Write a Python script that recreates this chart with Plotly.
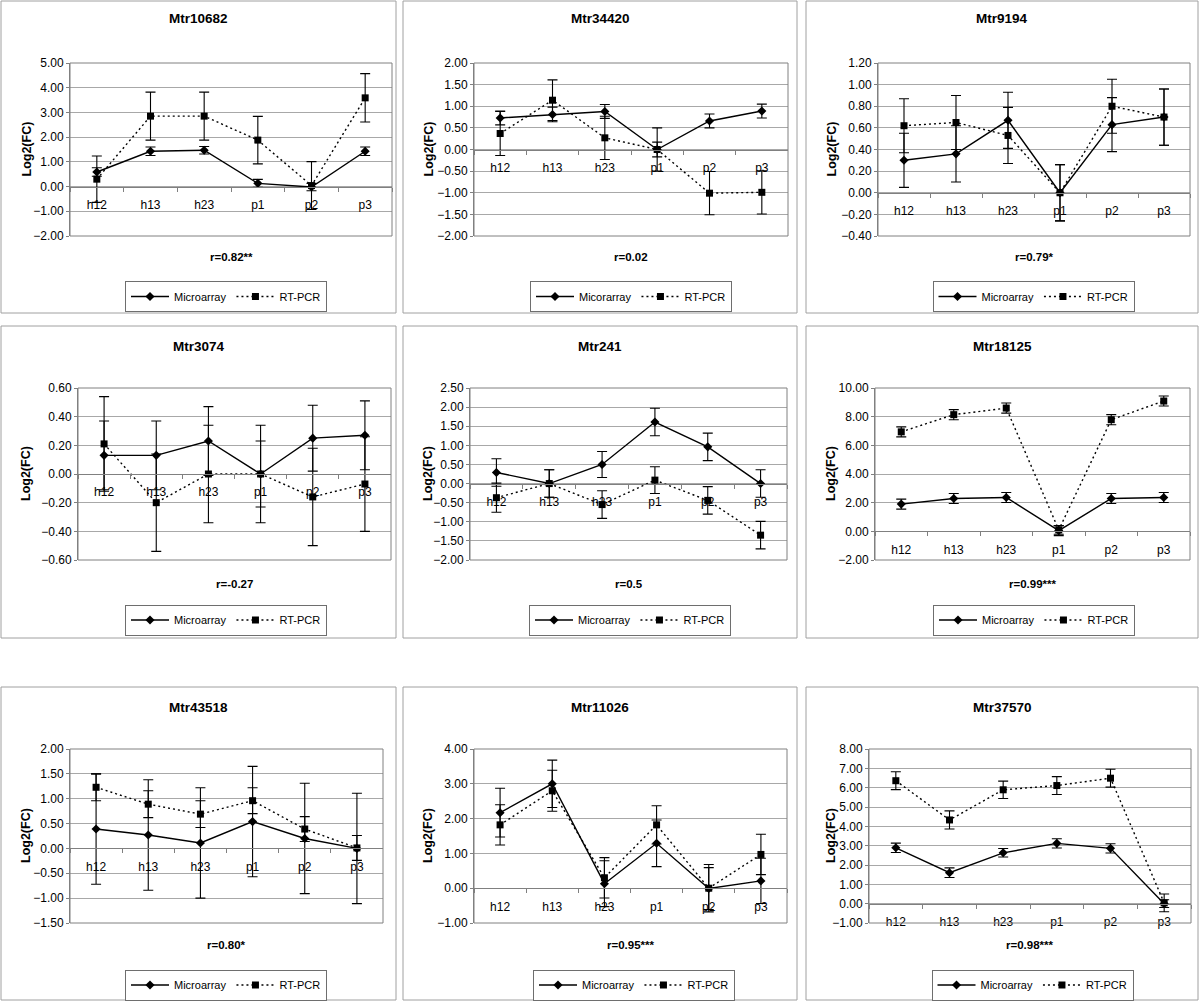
import plotly.graph_objects as go

# ---------------- data ----------------
CATEGORIES = ["h12", "h13", "h23", "p1", "p2", "p3"]
GENES = ["Mtr10682", "Mtr34420", "Mtr9194", "Mtr3074", "Mtr241", "Mtr18125",
         "Mtr43518", "Mtr11026", "Mtr37570"]
R_LABELS = ["r=0.82**", "r=0.02", "r=0.79*", "r=-0.27", "r=0.5", "r=0.99***",
            "r=0.80*", "r=0.95***", "r=0.98***"]
MICRO_NAMES = ["Microarray", "Micorarray", "Microarray", "Microarray", "Microarray",
               "Microarray", "Microarray", "Microarray", "Microarray"]
RT_NAME = "RT-PCR"
Y_TITLE = "Log2(FC)"

mtr10682_micro = [0.59, 1.43, 1.47, 0.13, -0.02, 1.43]
mtr10682_micro_err = [0.17, 0.17, 0.15, 0.16, 0.15, 0.17]
mtr10682_rt = [0.30, 2.85, 2.85, 1.88, 0.04, 3.59]
mtr10682_rt_err = [0.94, 0.97, 0.97, 0.96, 0.97, 0.98]

mtr34420_micro = [0.73, 0.81, 0.88, 0.00, 0.66, 0.89]
mtr34420_micro_err = [0.16, 0.17, 0.16, 0.17, 0.16, 0.16]
mtr34420_rt = [0.37, 1.14, 0.27, 0.00, -1.01, -0.99]
mtr34420_rt_err = [0.51, 0.47, 0.50, 0.50, 0.50, 0.50]

mtr9194_micro = [0.30, 0.36, 0.67, 0.00, 0.63, 0.70]
mtr9194_micro_err = [0.25, 0.26, 0.26, 0.26, 0.25, 0.26]
mtr9194_rt = [0.62, 0.65, 0.53, 0.00, 0.80, 0.70]
mtr9194_rt_err = [0.25, 0.25, 0.26, 0.26, 0.25, 0.26]

mtr3074_micro = [0.13, 0.13, 0.23, 0.00, 0.25, 0.27]
mtr3074_micro_err = [0.24, 0.24, 0.24, 0.23, 0.23, 0.24]
mtr3074_rt = [0.21, -0.20, 0.00, 0.00, -0.16, -0.07]
mtr3074_rt_err = [0.33, 0.34, 0.34, 0.34, 0.34, 0.33]

mtr241_micro = [0.29, 0.00, 0.50, 1.61, 0.96, 0.00]
mtr241_micro_err = [0.36, 0.36, 0.34, 0.36, 0.36, 0.36]
mtr241_rt = [-0.37, 0.00, -0.55, 0.09, -0.44, -1.35]
mtr241_rt_err = [0.38, 0.36, 0.36, 0.35, 0.36, 0.36]

mtr18125_micro = [1.90, 2.29, 2.36, 0.05, 2.29, 2.36]
mtr18125_micro_err = [0.35, 0.35, 0.35, 0.35, 0.35, 0.35]
mtr18125_rt = [6.94, 8.14, 8.60, 0.10, 7.79, 9.09]
mtr18125_rt_err = [0.35, 0.35, 0.35, 0.30, 0.35, 0.35]

mtr43518_micro = [0.39, 0.27, 0.11, 0.54, 0.20, 0.00]
mtr43518_micro_err = [1.11, 1.11, 1.11, 1.11, 1.11, 1.11]
mtr43518_rt = [1.23, 0.89, 0.69, 0.96, 0.39, 0.01]
mtr43518_rt_err = [0.27, 0.27, 0.27, 0.26, 0.25, 0.25]

mtr11026_micro = [2.17, 3.00, 0.13, 1.29, -0.01, 0.21]
mtr11026_micro_err = [0.70, 0.68, 0.66, 0.67, 0.60, 0.65]
mtr11026_rt = [1.82, 2.80, 0.30, 1.82, 0.00, 0.97]
mtr11026_rt_err = [0.58, 0.59, 0.58, 0.55, 0.68, 0.58]

mtr37570_micro = [2.89, 1.60, 2.63, 3.12, 2.86, 0.00]
mtr37570_micro_err = [0.24, 0.25, 0.22, 0.24, 0.24, 0.20]
mtr37570_rt = [6.36, 4.33, 5.89, 6.11, 6.49, 0.04]
mtr37570_rt_err = [0.46, 0.47, 0.45, 0.46, 0.46, 0.46]

MICRO = [mtr10682_micro, mtr34420_micro, mtr9194_micro, mtr3074_micro, mtr241_micro,
         mtr18125_micro, mtr43518_micro, mtr11026_micro, mtr37570_micro]
MICRO_ERR = [mtr10682_micro_err, mtr34420_micro_err, mtr9194_micro_err, mtr3074_micro_err,
             mtr241_micro_err, mtr18125_micro_err, mtr43518_micro_err, mtr11026_micro_err,
             mtr37570_micro_err]
RT = [mtr10682_rt, mtr34420_rt, mtr9194_rt, mtr3074_rt, mtr241_rt, mtr18125_rt,
      mtr43518_rt, mtr11026_rt, mtr37570_rt]
RT_ERR = [mtr10682_rt_err, mtr34420_rt_err, mtr9194_rt_err, mtr3074_rt_err, mtr241_rt_err,
          mtr18125_rt_err, mtr43518_rt_err, mtr11026_rt_err, mtr37570_rt_err]

# axis scales (min, max, step)
Y_AXES = [(-2, 5, 1), (-2, 2, 0.5), (-0.4, 1.2, 0.2), (-0.6, 0.6, 0.2), (-2, 2.5, 0.5),
          (-2, 10, 2), (-1.5, 2, 0.5), (-1, 4, 1), (-1, 8, 1)]

# ---------------- layout geometry (pixels) ----------------
W, H = 1200, 1002
PLOT_BOX = [(70, 392, 63, 236), (474, 788, 63, 236), (878, 1190, 63, 236),
            (78, 391, 388, 560), (470, 787, 388, 560), (875, 1190, 388, 560),
            (70, 383, 749, 923), (474, 787, 749, 923), (869, 1191, 749, 923)]
FRAME_X = [(1, 396), (403, 797), (806, 1198)]
FRAME_Y = [(1, 313), (326, 638), (687, 1000)]
TITLE_Y = [19, 347, 707]
R_Y = [257, 584, 945]
YTITLE_DX = 25
LEG_BOX = [(127, 325, 285, 308), (532, 730, 285, 308), (935, 1132, 285, 308),
           (127, 325, 610, 630), (530, 730, 610, 630), (935, 1133, 610, 630),
           (127, 325, 973, 997), (530, 738, 973, 997), (933, 1132, 973, 997)]

FONT = "Liberation Sans, Arial, sans-serif"
GRID = "#a8a8a8"
BORDER = "#808080"


def px_x(p):
    return p / W


def px_y(p):
    return 1 - p / H


fig = go.Figure()
layout = dict(
    width=W, height=H, margin=dict(l=0, r=0, t=0, b=0, autoexpand=False),
    autosize=False,
    paper_bgcolor="white", plot_bgcolor="white",
    font=dict(family=FONT, size=12, color="black"),
    shapes=[], annotations=[],
)

for k in range(9):
    n = "" if k == 0 else str(k + 1)
    xa, ya = "x" + n, "y" + n
    lg = "legend" + n
    x0, x1, y0, y1 = PLOT_BOX[k]
    ymin, ymax, step = Y_AXES[k]
    dom_x = [px_x(x0), px_x(x1)]
    dom_y = [px_y(y1), px_y(y0)]
    zero_pos = dom_y[0] + (0 - ymin) / (ymax - ymin) * (dom_y[1] - dom_y[0])

    fig.add_trace(go.Scatter(
        x=CATEGORIES, y=MICRO[k], name=MICRO_NAMES[k], xaxis=xa, yaxis=ya, legend=lg,
        mode="lines+markers",
        line=dict(color="black", width=1.4),
        marker=dict(symbol="diamond", size=7, color="black"),
        error_y=dict(type="data", array=MICRO_ERR[k], visible=True, color="black",
                     thickness=1.1, width=5),
    ))
    fig.add_trace(go.Scatter(
        x=CATEGORIES, y=RT[k], name=RT_NAME, xaxis=xa, yaxis=ya, legend=lg,
        mode="lines+markers",
        line=dict(color="black", width=1.4, dash="2px,3px"),
        marker=dict(symbol="square", size=7, color="black"),
        error_y=dict(type="data", array=RT_ERR[k], visible=True, color="black",
                     thickness=1.1, width=5),
    ))

    layout["xaxis" + n] = dict(
        domain=dom_x, anchor="free", position=zero_pos, automargin=False,
        type="category", range=[-0.5, 5.5],
        showgrid=False, zeroline=False,
        showline=True, linecolor=BORDER, linewidth=1,
        ticks="outside", tickson="boundaries", ticklen=4, tickcolor=BORDER,
        ticklabelstandoff=7,
        tickfont=dict(family=FONT, size=12, color="black"),
        fixedrange=True,
    )
    layout["yaxis" + n] = dict(
        domain=dom_y, anchor=xa, automargin=False,
        range=[ymin, ymax], dtick=step, tick0=0,
        tickformat=".2f",
        showgrid=True, gridcolor=GRID, gridwidth=1, zeroline=False,
        showline=True, linecolor=BORDER, linewidth=1,
        ticks="outside", ticklen=3, tickcolor=BORDER,
        tickfont=dict(family=FONT, size=12, color="black"),
        fixedrange=True,
    )
    # plot area border
    layout["shapes"].append(dict(type="rect", xref=xa + " domain", yref=ya + " domain",
                                 x0=0, x1=1, y0=0, y1=1,
                                 line=dict(color=BORDER, width=1), layer="above"))
    # panel frame
    col, row = k % 3, k // 3
    fx0, fx1 = FRAME_X[col]
    fy0, fy1 = FRAME_Y[row]
    layout["shapes"].append(dict(type="rect", xref="paper", yref="paper",
                                 x0=px_x(fx0), x1=px_x(fx1), y0=px_y(fy1), y1=px_y(fy0),
                                 line=dict(color="#a0a0a0", width=1)))
    # title
    layout["annotations"].append(dict(
        text="<b>" + GENES[k] + "</b>", xref="paper", yref="paper",
        x=px_x((fx0 + fx1) / 2), y=px_y(TITLE_Y[row]), xanchor="center", yanchor="middle",
        showarrow=False, font=dict(family=FONT, size=13.5, color="black")))
    # y-axis title
    layout["annotations"].append(dict(
        text="<b>" + Y_TITLE + "</b>", xref="paper", yref=ya + " domain",
        x=px_x(fx0 + YTITLE_DX), y=0.5, xanchor="center", yanchor="middle",
        textangle=-90, showarrow=False, font=dict(family=FONT, size=12.5, color="black")))
    # correlation label (category axis title)
    layout["annotations"].append(dict(
        text="<b>" + R_LABELS[k] + "</b>", xref="paper", yref="paper",
        x=px_x((x0 + x1) / 2), y=px_y(R_Y[row]), xanchor="center", yanchor="middle",
        showarrow=False, font=dict(family=FONT, size=11.5, color="black")))
    # legend
    lx0, lx1, ly0, ly1 = LEG_BOX[k]
    layout[lg] = dict(
        orientation="h", x=px_x((lx0 + lx1) / 2), y=px_y((ly0 + ly1) / 2),
        xanchor="center", yanchor="middle",
        bgcolor="white", bordercolor="#6e6e6e", borderwidth=1,
        font=dict(family=FONT, size=11, color="black"),
        itemwidth=38, tracegroupgap=0,
    )

fig.update_layout(**layout)
fig.write_html("out.html", config={"displayModeBar": False},
               post_script="document.body.style.margin='0';")
